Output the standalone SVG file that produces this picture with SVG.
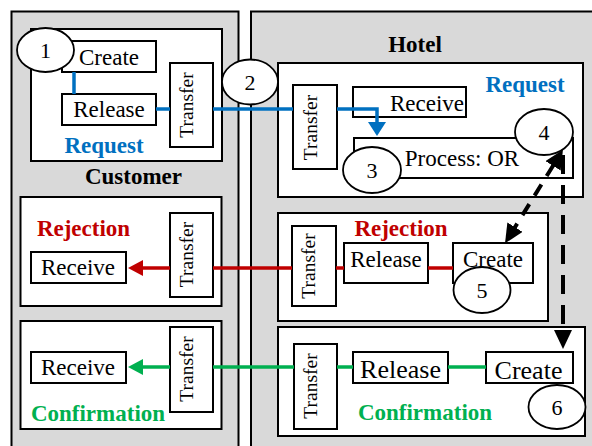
<svg xmlns="http://www.w3.org/2000/svg" width="592" height="446" viewBox="0 0 592 446">
<defs>
<style>
.lane{fill:#d9d9d9;stroke:#000;stroke-width:2}
.box{fill:#fff;stroke:#000;stroke-width:2}
.task{fill:#fff;stroke:#000;stroke-width:2}
.circ{fill:#fff;stroke:#000;stroke-width:1.8}
text{font-family:"Liberation Serif","Times New Roman",serif;fill:#000}
.t{font-size:23px;text-anchor:middle}
.tl{font-size:26px;text-anchor:middle}
.tr{font-size:19.5px;text-anchor:middle}
.n{font-size:22px;text-anchor:middle}
.b{font-size:23px;font-weight:bold;text-anchor:middle}
.blue{fill:#0070c0}.red{fill:#c00000}.green{fill:#00b050}
.cb{stroke:#0070c0;stroke-width:3.5;fill:none}
.cr{stroke:#c00000;stroke-width:3.5;fill:none}
.cg{stroke:#00b050;stroke-width:3.5;fill:none}
.dv{stroke:#000;stroke-width:4;fill:none;stroke-dasharray:19 11}
.dd{stroke:#000;stroke-width:4;fill:none;stroke-dasharray:13 10}
</style>
<marker id="ab" markerUnits="userSpaceOnUse" markerWidth="15" markerHeight="18" refX="1" refY="9" orient="auto"><path d="M0,0 L14,9 L0,18 z" fill="#0070c0"/></marker>
<marker id="ar" markerUnits="userSpaceOnUse" markerWidth="16" markerHeight="16" refX="1" refY="8" orient="auto"><path d="M0,0 L15,8 L0,16 z" fill="#c00000"/></marker>
<marker id="ag" markerUnits="userSpaceOnUse" markerWidth="16" markerHeight="16" refX="1" refY="8" orient="auto"><path d="M0,0 L15,8 L0,16 z" fill="#00b050"/></marker>
<marker id="ak" markerUnits="userSpaceOnUse" markerWidth="20" markerHeight="18" refX="1" refY="9" orient="auto-start-reverse"><path d="M0,0 L19,9 L0,18 z" fill="#000"/></marker>
</defs>

<g id="lane-customer">
<rect class="lane" x="11.5" y="11.5" width="227" height="450"/>
<text class="b" x="133.5" y="184">Customer</text>
</g>
<g id="lane-hotel">
<rect class="lane" x="251" y="11.5" width="360" height="450"/>
<text class="b" x="415" y="52">Hotel</text>
</g>

<g id="customer-request">
<rect class="box" x="31" y="29" width="191" height="132"/>
<text class="b blue" x="104" y="153">Request</text>
</g>
<g id="customer-rejection">
<rect class="box" x="20.5" y="197" width="201" height="109"/>
<text class="b red" x="83.5" y="236">Rejection</text>
</g>
<g id="customer-confirmation">
<rect class="box" x="20.5" y="321" width="201" height="108"/>
<text class="b green" x="98" y="420.5">Confirmation</text>
</g>
<g id="hotel-request">
<rect class="box" x="278" y="63" width="305" height="134"/>
<text class="b blue" x="525" y="92">Request</text>
</g>
<g id="hotel-rejection">
<rect class="box" x="278" y="213" width="270" height="108"/>
<text class="b red" x="401" y="236">Rejection</text>
</g>
<g id="hotel-confirmation">
<rect class="box" x="278" y="327" width="307" height="109"/>
<text class="b green" x="425" y="420">Confirmation</text>
</g>

<g id="c-create">
<rect class="task" x="62" y="41" width="94" height="31"/>
<text class="t" x="109" y="65">Create</text>
</g>
<g id="c-release">
<rect class="task" x="62" y="94" width="94" height="31"/>
<text class="t" x="109" y="117">Release</text>
</g>
<g id="c-transfer-req">
<rect class="task" x="170" y="63" width="43" height="84"/>
<text class="tr" transform="translate(193,105) rotate(-90)">Transfer</text>
</g>
<g id="h-transfer-req">
<rect class="task" x="293" y="85" width="44" height="84"/>
<text class="tr" transform="translate(317,127.5) rotate(-90)">Transfer</text>
</g>
<g id="h-receive">
<rect class="task" x="353" y="87" width="113" height="30"/>
<text class="t" x="427" y="110.5">Receive</text>
</g>
<g id="h-process">
<rect class="task" x="354" y="138" width="219" height="40"/>
<text class="t" x="462" y="165.5">Process: OR</text>
</g>

<g id="c-transfer-rej">
<rect class="task" x="170" y="213" width="43" height="84"/>
<text class="tr" transform="translate(193,254.5) rotate(-90)">Transfer</text>
</g>
<g id="c-receive-rej">
<rect class="task" x="31" y="252" width="95" height="31"/>
<text class="t" x="78" y="275">Receive</text>
</g>
<g id="h-transfer-rej">
<rect class="task" x="292" y="226" width="44" height="80"/>
<text class="tr" transform="translate(315,266) rotate(-90)">Transfer</text>
</g>
<g id="h-release-rej">
<rect class="task" x="344" y="243" width="84" height="40"/>
<text class="t" x="386" y="267">Release</text>
</g>
<g id="h-create-rej">
<rect class="task" x="453" y="243" width="80" height="40"/>
<text class="t" x="493" y="267">Create</text>
</g>

<g id="c-transfer-conf">
<rect class="task" x="170" y="327" width="43" height="85"/>
<text class="tr" transform="translate(193,369) rotate(-90)">Transfer</text>
</g>
<g id="c-receive-conf">
<rect class="task" x="31" y="352" width="95" height="31"/>
<text class="t" x="78" y="375">Receive</text>
</g>
<g id="h-transfer-conf">
<rect class="task" x="294" y="344" width="43" height="85"/>
<text class="tr" transform="translate(317,386) rotate(-90)">Transfer</text>
</g>
<g id="h-release-conf">
<rect class="task" x="353" y="352" width="95" height="31"/>
<text class="tl" x="400.5" y="378">Release</text>
</g>
<g id="h-create-conf">
<rect class="task" x="486" y="352" width="87" height="31"/>
<text class="tl" x="528.5" y="379">Create</text>
</g>

<g id="connectors">
<path class="cb" d="M74,72 V94"/>
<path class="cb" d="M156,109 H170"/>
<path class="cb" d="M213,109 H293"/>
<path class="cb" d="M337,109 H377 V123" marker-end="url(#ab)"/>
<path class="cr" d="M292,268 H213"/>
<path class="cr" d="M170,268 H142" marker-end="url(#ar)"/>
<path class="cr" d="M336,268 H344"/>
<path class="cr" d="M428,268 H453"/>
<path class="cg" d="M294,367 H213"/>
<path class="cg" d="M170,367 H142" marker-end="url(#ag)"/>
<path class="cg" d="M337,367 H353"/>
<path class="cg" d="M448,367 H486"/>
<path class="dv" d="M563,155 V331" marker-end="url(#ak)"/>
<path class="dd" d="M553.5,165 L514.5,228" marker-start="url(#ak)" marker-end="url(#ak)"/>
</g>

<g id="m1"><ellipse class="circ" cx="45.5" cy="50" rx="28.5" ry="22"/><text class="n" x="45.5" y="58">1</text></g>
<g id="m2"><ellipse class="circ" cx="250" cy="82" rx="28" ry="22.5"/><text class="n" x="250" y="90">2</text></g>
<g id="m3"><ellipse class="circ" cx="372" cy="170" rx="29" ry="23"/><text class="n" x="372" y="178">3</text></g>
<g id="m4"><ellipse class="circ" cx="544" cy="132" rx="29" ry="23"/><text class="n" x="544" y="140">4</text></g>
<g id="m5"><ellipse class="circ" cx="482" cy="290" rx="28.5" ry="23"/><text class="n" x="482" y="298">5</text></g>
<g id="m6"><ellipse class="circ" cx="557" cy="407" rx="28.5" ry="22"/><text class="n" x="557" y="415">6</text></g>
</svg>
